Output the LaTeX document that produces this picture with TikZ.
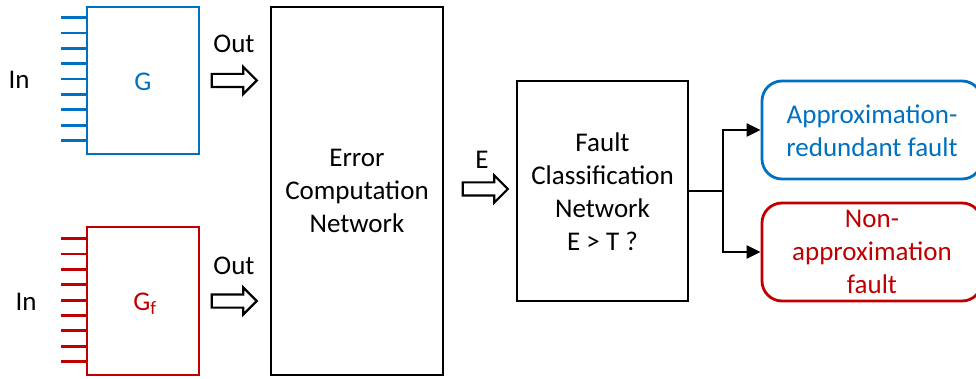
\documentclass[tikz,border=0pt]{standalone}
\usepackage{fontspec}
\setmainfont{Carlito}
\usetikzlibrary{shapes.arrows,arrows.meta}
\definecolor{gblue}{RGB}{0,112,192}
\definecolor{gred}{RGB}{192,0,0}
\tikzset{
  lbl/.style={font=\fontsize{27}{33}\selectfont, align=center, inner sep=0pt},
  blockbox/.style={draw, line width=2.8pt, rectangle, inner sep=0pt},
  resbox/.style={draw, line width=2.8pt, rectangle, rounded corners=20pt, inner sep=0pt,
    minimum width=220pt, minimum height=98pt},
  pinline/.style={line width=2.8pt},
  fatarrow/.style={single arrow, draw, line width=2.2pt, inner sep=0pt,
    inner ysep=5.5pt, minimum height=45pt, single arrow head extend=7pt},
  conn/.style={line width=2.2pt},
}
\begin{document}
\begin{tikzpicture}[x=1pt,y=-1pt]
\useasboundingbox (0,0) rectangle (976,379);

% golden circuit G and faulty circuit Gf
\node[blockbox, draw=gblue, minimum width=112pt, minimum height=147pt] (G) at (143,80.5) {};
\node[lbl, text=gblue] (Gt) at (143,82) {G};
\node[blockbox, draw=gred, minimum width=112pt, minimum height=148pt] (Gf) at (143,301) {};
\node[lbl, text=gred] (Gft) at (145,304) {G\textsubscript{f}};

% input pins
\foreach \k in {0,...,8} {
  \draw[pinline, gblue] ([yshift=-12pt-\k*15.375pt]G.north west) -- ++(-25,0);
  \draw[pinline, gred] ([yshift=-13pt-\k*15.375pt]Gf.north west) -- ++(-25,0);
}
\node[lbl] (in1) at (19,80) {In};
\node[lbl] (in2) at (26,302) {In};

% outputs
\node[lbl] (out1) at (234,44) {Out};
\node[fatarrow] (a1) at (231,80.5) {};
\node[lbl] (out2) at (234,266) {Out};
\node[fatarrow] (a2) at (231,301) {};

% error computation network
\node[blockbox, minimum width=172pt, minimum height=368pt] (ecn) at (357,191) {};
\node[lbl] (ecnt) at (357,191) {Error\\Computation\\Network};

% error signal
\node[lbl] (e) at (482,160) {E};
\node[fatarrow] (a3) at (482,189) {};

% fault classification
\node[blockbox, minimum width=171pt, minimum height=220pt] (fc) at (602.5,191) {};
\node[lbl] (fct) at (602.5,192) {Fault\\Classification\\Network\\E > T ?};

% outcomes
\node[resbox, draw=gblue] (apx) at (872,130) {};
\node[lbl, text=gblue] (apxt) at (872,131) {Approximation-\\redundant fault};
\node[resbox, draw=gred] (nap) at (872,252) {};
\node[lbl, text=gred] (napt) at (872,252) {Non-\\approximation\\fault};

\coordinate (split) at (723,191);
\draw[conn] (fc.east) -- (split);
\draw[conn, -{Triangle[length=14pt,width=13pt]}] (split) |- (apx.west);
\draw[conn, -{Triangle[length=14pt,width=13pt]}] (split) |- (nap.west);
\end{tikzpicture}
\end{document}
